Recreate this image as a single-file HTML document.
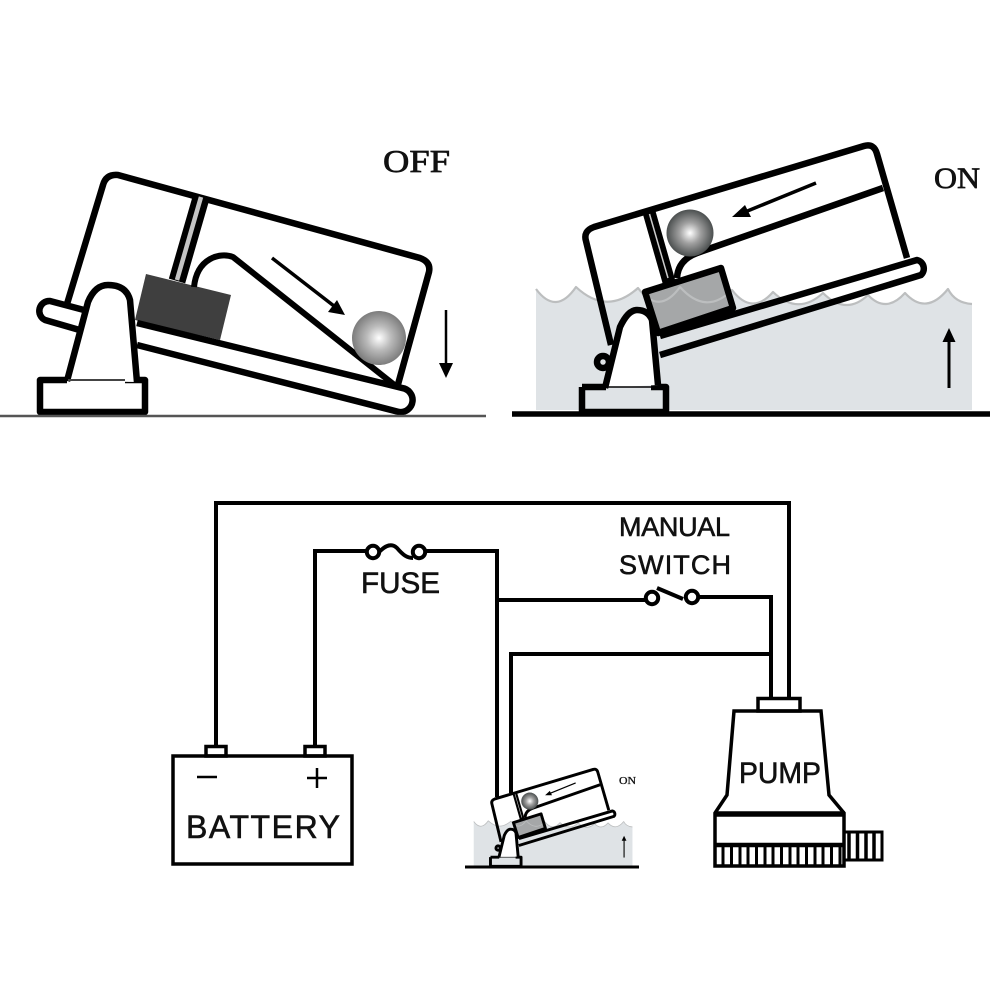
<!DOCTYPE html>
<html><head><meta charset="utf-8"><style>html,body{margin:0;padding:0;background:#fff}svg{display:block}
.s{font-family:"Liberation Sans",sans-serif;fill:#111;stroke:#111;stroke-width:.6px}.f{font-family:"Liberation Serif",serif;fill:#111;stroke:#111;stroke-width:.7px}</style></head>
<body>
<svg width="1001" height="1001" viewBox="0 0 1001 1001" xmlns="http://www.w3.org/2000/svg">
<defs>
<radialGradient id="b1"><stop offset="0" stop-color="#fff"/><stop offset=".45" stop-color="#bbb"/><stop offset="1" stop-color="#7c7c7c"/></radialGradient>
<radialGradient id="b2"><stop offset="0" stop-color="#fff"/><stop offset=".45" stop-color="#a0a0a0"/><stop offset="1" stop-color="#4b4f4f"/></radialGradient>
<g id="on" fill="none" stroke="#000" stroke-linejoin="round">
<path stroke="none" fill="#dfe3e6" d="M536 289Q556 316 576 287Q607 316 638 288Q659 316 680 287Q706 316 732 290Q752 316 773 292Q798 316 823 293Q846 316 868 295Q886 314 905 293Q926 316 948 289Q955 303 972 304V410H536Z"/>
<path fill="#a5a7a8" stroke="none" d="M645 292L721 268L733 308L658 333Z"/>
<path stroke="#bcbebf" stroke-width="2.2" d="M536 289Q556 316 576 287Q607 316 638 288Q659 316 680 287Q706 316 732 290Q752 316 773 292Q798 316 823 293Q846 316 868 295Q886 314 905 293Q926 316 948 289Q955 303 972 304"/>
<path d="M611 345L586 241Q583 231 594 227L864 146Q874 143 877 154L907 258"/>
<path d="M883 188L697 253Q678 260 677 278"/>
<path d="M649 212L669 282" stroke-width="13"/>
<path d="M649.500 214L668 278" stroke="#ccc" stroke-width="1.500"/>
<path d="M645 292L721 268L733 308L658 333Z"/>
<path d="M660 336L917 260A8.800 8.800 0 0 1 921 275L660 355"/>
<circle cx="603" cy="362" r="6"/>
<circle cx="690" cy="233" r="23.500" fill="url(#b2)" stroke="none"/>
<path d="M582 387V412H666V387H651M582 387H606"/>
<path d="M605 388L620 327Q628 310 637 310Q648 310 652 320L658 385" fill="#fff"/>
<path d="M605 387H655" stroke-width="1.500"/>
<path d="M816 183L745 212" stroke-width="3.500"/>
<path d="M732 217L745 205L751 217Z" fill="#000" stroke="none"/>
<path d="M949 388V340" stroke-width="3"/>
<path d="M949 328L955.500 342H942.500Z" fill="#000" stroke="none"/>
</g>
</defs>

<!-- OFF -->
<g fill="none" stroke="#000" stroke-width="6.500" stroke-linejoin="round">
<path d="M135 320L146 274L231 295L220 340Z" fill="#3f3f3f" stroke="none"/>
<path d="M67 304L103 185Q106 174 118 175L420 258Q431 262 429 272L397 388"/>
<path d="M201 198L177 281" stroke-width="17"/>
<path d="M201 197L177 280" stroke="#c4c4c4" stroke-width="4.500"/>
<path d="M194 287C197 258 220 252 233 257L397 387" stroke-width="6"/>
<path d="M84 310L50 301A10 10 0 0 0 45 320L83 331"/>
<path d="M137 323L398 387L402 388A12 12 0 0 1 399 412L137 345"/>
<path d="M67 380H40V412H145V380H125"/>
<path d="M67 381L88 302Q95 285 108 285Q126 285 130 300L137 382" fill="#fff"/>
<path d="M68 380H125" stroke="#444" stroke-width="2"/>
<circle cx="379" cy="338" r="27" fill="url(#b1)" stroke="none"/>
<path d="M272 258L334 306" stroke-width="3.500"/>
<path d="M345 315L328 312L337 300Z" fill="#000" stroke="none"/>
<path d="M446 310V364" stroke-width="2.500"/>
<path d="M446 378L439 363H453Z" fill="#000" stroke="none"/>
<path d="M0 416H486" stroke="#555" stroke-width="2.500"/>
</g>
<text class="f" x="383" y="172" font-size="32" textLength="67" lengthAdjust="spacingAndGlyphs">OFF</text>

<!-- ON -->
<use href="#on" stroke-width="6.500"/>
<path d="M512 414H990" stroke="#000" stroke-width="5.500"/>
<text class="f" x="934" y="188" font-size="30" textLength="46" lengthAdjust="spacingAndGlyphs">ON</text>

<!-- wiring -->
<g fill="none" stroke="#000" stroke-width="4">
<path d="M216 746V503H789V698"/>
<path d="M315 746V551H367M426 551H497V797"/>
<path d="M497 600H646M698 597H771V698"/>
<path d="M771 654H511V793"/>
<circle cx="373" cy="552" r="6.200"/>
<circle cx="419" cy="552" r="6.200"/>
<path d="M379 552C386 545 392 543 397 548C403 555 407 558 413 558"/>
<circle cx="652" cy="598" r="6.200"/>
<circle cx="692" cy="597" r="6.200"/>
<path d="M657 588L683 599"/>
<!-- battery -->
<rect x="173" y="756" width="179" height="108" stroke-width="3.500"/>
<rect x="206" y="746.500" width="20" height="9.500" stroke-width="3.500"/>
<rect x="305" y="746.500" width="20" height="9.500" stroke-width="3.500"/>
<path d="M197 777H217M317 768V788M307 778H327" stroke-width="2.500"/>
<!-- pump -->
<rect x="758" y="698.500" width="42" height="12.500" stroke-width="3.500"/>
<path d="M734 711H821L829 795L844 813V866H715V813L727 795Z" stroke-width="3.500"/>
<path d="M715 814H845" stroke-width="5.500"/>
<path d="M715 845H845" stroke-width="4.500"/>
<path d="M723 846V866M731.500 846V866M740 846V866M748 846V866M756.500 846V866M765 846V866M773 846V866M781.500 846V866M790 846V866M798 846V866M806.500 846V866M815 846V866M823 846V866M831.500 846V866M840 846V866" stroke-width="3"/>
<path d="M845 832H882V860H845" stroke-width="3"/>
<path d="M849 832V860M857.500 832V860M866 832V860M874 832V860" stroke-width="3.500"/>
</g>
<text class="s" x="361" y="593" font-size="30" textLength="79" lengthAdjust="spacingAndGlyphs">FUSE</text>
<text class="s" x="619" y="536" font-size="27" textLength="111" lengthAdjust="spacing">MANUAL</text>
<text class="s" x="619" y="574" font-size="27" textLength="112" lengthAdjust="spacing">SWITCH</text>
<text class="s" x="186" y="838" font-size="32" textLength="154" lengthAdjust="spacing">BATTERY</text>
<text class="s" x="739" y="783" font-size="30" textLength="82" lengthAdjust="spacingAndGlyphs">PUMP</text>

<!-- small switch -->
<g transform="translate(465 867) scale(.364) translate(-512 -414)">
<use href="#on" stroke-width="8"/>
</g>
<path d="M465 867H639" stroke="#000" stroke-width="3"/>
<text class="f" x="619" y="784" font-size="10.500" textLength="17" lengthAdjust="spacingAndGlyphs" style="stroke-width:.3px">ON</text>
</svg>
</body></html>
